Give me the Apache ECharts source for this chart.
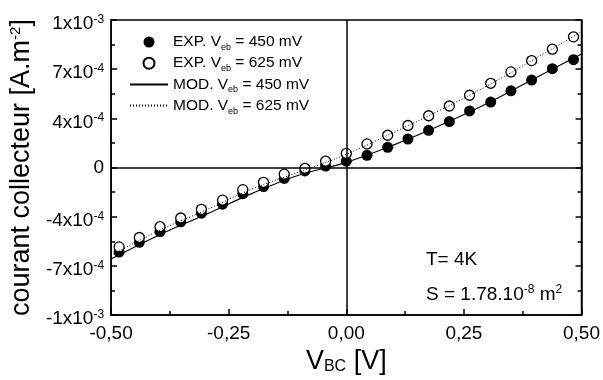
<!DOCTYPE html>
<html><head><meta charset="utf-8">
<script src="https://cdn.jsdelivr.net/npm/echarts@6/dist/echarts.min.js"></script>
<style>html,body{margin:0;padding:0;background:#fff}#c{width:603px;height:380px}</style>
</head><body><div id="c"></div>
<script>
// V_BC (V)
const vbc = [-0.483,-0.440,-0.396,-0.352,-0.308,-0.263,-0.220,-0.176,-0.132,-0.088,-0.044,0,0.044,0.088,0.131,0.175,0.219,0.262,0.307,0.350,0.394,0.438,0.483];
// collector current, units of 1e-4 A.m^-2
const exp450 = [-5.73,-5.07,-4.34,-3.68,-3.09,-2.48,-1.77,-1.29,-0.74,-0.23,0.10,0.43,0.83,1.37,1.93,2.52,3.12,3.84,4.44,5.20,5.93,6.70,7.31];
const exp625 = [-5.38,-4.74,-4.01,-3.42,-2.83,-2.21,-1.50,-1.00,-0.45,-0.05,0.43,0.96,1.60,2.19,2.85,3.51,4.17,4.90,5.71,6.48,7.25,8.02,8.86];
const vbcModel = [-0.5,-0.4,-0.3,-0.2,-0.1,0,0.1,0.2,0.3,0.4,0.5];
const mod450 = [-6.2,-4.6,-3.2,-1.75,-0.5,0.35,1.52,2.86,4.35,6.04,7.7];
const mod625 = [-5.95,-4.3,-2.9,-1.45,-0.3,0.9,2.37,3.9,5.55,7.35,9.2];
const xTickLabels = ['-0,50','-0,25','0,00','0,25','0,50'];
const yTickLabels = ['{m|-1x10}{s|-3}','{m|-7x10}{s|-4}','{m|-4x10}{s|-4}','{z|0}','{m|4x10}{s|-4}','{m|7x10}{s|-4}','{m|1x10}{s|-3}'];
const seriesNames = ['exp450','exp625','mod450','mod625'];
const legendLabels = ['EXP. V{e|eb} = 450 mV','EXP. V{e|eb} = 625 mV','MOD. V{e|eb} = 450 mV','MOD. V{e|eb} = 625 mV'];

const FONT = '"Liberation Sans", Arial, sans-serif';
const pair = (xs, ys) => xs.map((x, i) => [x, ys[i]]);
const yStep = 10 / 3;

const tickStyle = {color:'#000', width:1.5};
const yAxisBase = {
  type:'value', min:-10, max:10, interval:yStep,
  axisLine:{show:true, onZero:false, lineStyle:tickStyle},
  axisTick:{show:true, inside:true, length:6, lineStyle:tickStyle},
  minorTick:{show:true, splitNumber:2, length:4, lineStyle:tickStyle},
  splitLine:{show:false}
};

const chart = echarts.init(document.getElementById('c'), null, {renderer:'canvas'});
chart.setOption({
  animation:false,
  textStyle:{fontFamily:FONT, color:'#000'},
  grid:{left:111, right:21, top:20, bottom:57, show:true, borderColor:'#000', borderWidth:1.5, backgroundColor:'transparent'},
  legend:{
    orient:'vertical', left:129, top:32, padding:0, itemWidth:38, itemHeight:11, itemGap:1.2,
    data:[
      {name:'exp450'},
      {name:'exp625'},
      {name:'mod450', itemStyle:{opacity:0}},
      {name:'mod625', itemStyle:{opacity:0}}
    ],
    formatter:(name) => legendLabels[seriesNames.indexOf(name)],
    textStyle:{fontFamily:FONT, fontSize:15.5, color:'#000', lineHeight:20,
      rich:{e:{fontFamily:FONT, fontSize:9, lineHeight:2, verticalAlign:'bottom', color:'#000'}}}
  },
  xAxis:{
    type:'value', min:-0.5, max:0.5, interval:0.25,
    axisLine:{show:true, onZero:false, lineStyle:tickStyle},
    axisTick:{show:true, inside:true, length:6, lineStyle:tickStyle},
    minorTick:{show:true, splitNumber:2, length:4, lineStyle:tickStyle},
    splitLine:{show:false},
    axisLabel:{color:'#000', fontFamily:FONT, fontSize:19, margin:9,
      formatter:(v) => xTickLabels[Math.round((v + 0.5) / 0.25)]},
    name:'{v|V}{b|BC}{v| [V]}', nameLocation:'middle', nameGap:24,
    nameTextStyle:{rich:{
      v:{fontFamily:FONT, fontSize:27, lineHeight:27, color:'#000'},
      b:{fontFamily:FONT, fontSize:16, lineHeight:8, verticalAlign:'bottom', color:'#000'}}}
  },
  yAxis:[
    Object.assign({}, yAxisBase, {
      position:'left',
      axisLabel:{color:'#000', fontFamily:FONT, margin:7,
        formatter:(v) => yTickLabels[Math.round(v / yStep) + 3],
        rich:{
          m:{fontFamily:FONT, fontSize:19, lineHeight:19, padding:[8,0,0,0], color:'#000'},
          s:{fontFamily:FONT, fontSize:12, lineHeight:12, padding:[3,0,0,0], verticalAlign:'top', color:'#000'},
          z:{fontFamily:FONT, fontSize:19, lineHeight:19, color:'#000'}}},
      name:'{t|courant collecteur [A.m}{p|-2}{t|]}', nameLocation:'middle', nameGap:72,
      nameTextStyle:{rich:{
        t:{fontFamily:FONT, fontSize:27, lineHeight:27, color:'#000'},
        p:{fontFamily:FONT, fontSize:15, lineHeight:10, verticalAlign:'top', color:'#000'}}}
    }),
    Object.assign({}, yAxisBase, {
      position:'right',
      axisLabel:{show:false}
    })
  ],
  graphic:[
    {type:'text', x:426, y:260, style:{text:'T= 4K', fill:'#000', font:'19px ' + FONT, verticalAlign:'middle'}},
    {type:'text', x:426, y:291, style:{text:'{r|S = 1.78.10}{s|-8}{r| m}{s|2}', verticalAlign:'middle',
      rich:{r:{fontFamily:FONT, fontSize:19, lineHeight:19, padding:[7,0,0,0], fill:'#000'},
            s:{fontFamily:FONT, fontSize:12, lineHeight:12, padding:[2,0,0,0], verticalAlign:'top', fill:'#000'}}}}
  ],
  series:[
    {name:'exp450', type:'scatter', data:pair(vbc, exp450), symbol:'circle', symbolSize:11,
     itemStyle:{color:'#000', opacity:1}, z:2},
    {name:'exp625', type:'scatter', data:pair(vbc, exp625), symbol:'circle', symbolSize:10,
     itemStyle:{color:'#fff', borderColor:'#000', borderWidth:1.3, opacity:1}, z:3},
    {name:'mod450', type:'line', data:pair(vbcModel, mod450), smooth:0.4, symbol:'none',
     lineStyle:{color:'#000', width:1.1, type:'solid'}, itemStyle:{color:'#000'}, z:4},
    {name:'mod625', type:'line', data:pair(vbcModel, mod625), smooth:0.4, symbol:'none',
     lineStyle:{color:'#000', width:1, type:[1,2]}, itemStyle:{color:'#000'}, z:5,
     markLine:{silent:true, symbol:'none', label:{show:false}, animation:false,
       lineStyle:{color:'#000', width:1.5, type:'solid'},
       data:[{xAxis:0},{yAxis:0}]}}
  ]
});
</script></body></html>
